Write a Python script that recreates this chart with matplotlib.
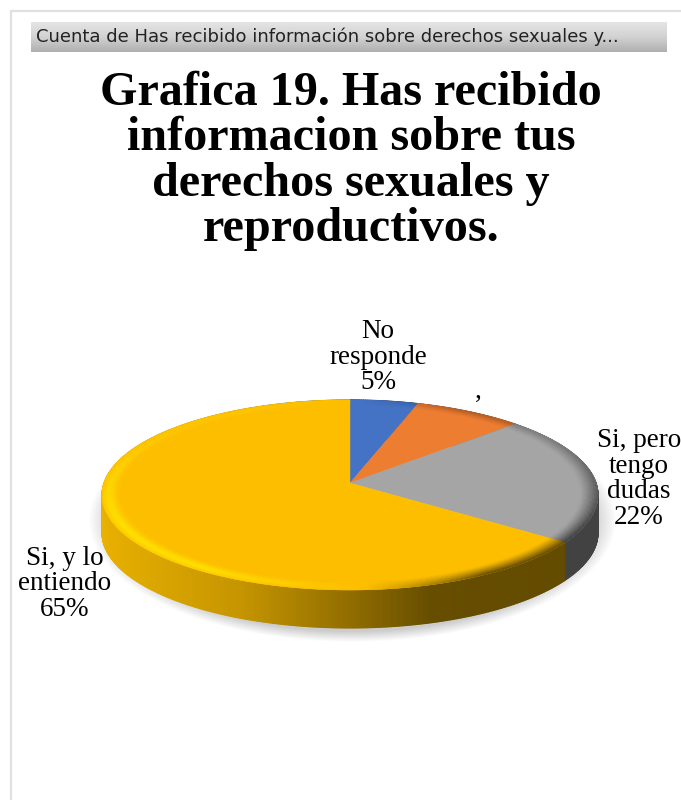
# -*- coding: utf-8 -*-
import numpy as np
import matplotlib.pyplot as plt
from matplotlib.collections import PolyCollection
from matplotlib.colors import to_rgb, LinearSegmentedColormap
from matplotlib.patches import Polygon

categorias = ["No responde", "", "Si, pero tengo dudas", "Si, y lo entiendo"]
valores = [5, 8, 22, 65]
colores = ["#4472c4", "#ed7d31", "#a5a5a5", "#fdbe00"]
etiquetas = ["No\nresponde\n5%", ",", "Si, pero\ntengo\ndudas\n22%", "Si, y lo\nentiendo\n65%"]
pos_etiquetas = [(378, 357), (478, 391), (639, 479), (65, 584)]
titulo = "Grafica 19. Has recibido\ninformacion sobre tus\nderechos sexuales y\nreproductivos."
cabecera = "Cuenta de Has recibido información sobre derechos sexuales y..."

# geometria del pie en pixeles
CX, CY = 350, 483
RX, RY = 246, 93.5
P = 0.126
ALTO = 38


def proyecta(ang, r=1.0):
    # ang en grados, sentido horario desde arriba, con perspectiva
    t = np.radians(ang)
    u = r * np.sin(t)
    v = -r * np.cos(t)
    s = 1 / (1 - P * v)
    return CX + RX * u * s, CY + RY * v * s


def mezcla(a, b, w):
    return tuple(np.array(a) * (1 - w) + np.array(b) * w)


fig = plt.figure(figsize=(6.81, 8), dpi=100)
ax = fig.add_axes([0, 0, 1, 1])
ax.set_xlim(0, 681)
ax.set_ylim(800, 0)
ax.axis("off")

# marco y barra de cabecera
ax.plot([11, 11, 681], [800, 11, 11], color="#e0e0e0", lw=1.6, zorder=1)
barra = np.linspace(0, 1, 30).reshape(-1, 1)
cmap_barra = LinearSegmentedColormap.from_list("barra", ["#e4e4e4", "#d2d2d2", "#b0b0b0"])
ax.imshow(barra, extent=[31, 667, 52, 22], cmap=cmap_barra, aspect="auto", zorder=2)
ax.set_xlim(0, 681)
ax.set_ylim(800, 0)
ax.text(36, 37, cabecera, family="DejaVu Sans", fontsize=13, color="#222222",
        va="center", ha="left", zorder=3)

ax.text(351, 161, titulo, family="Liberation Serif", weight="bold", fontsize=34.7,
        color="black", ha="center", va="center", linespacing=1.045, zorder=3)

# sombra difusa bajo el pie
yy, xx = np.mgrid[380:660, 70:640]
d = np.sqrt(((xx - 352) / 256.0) ** 2 + ((yy - 520) / 118.0) ** 2)
alfa = np.clip((1.03 - d) / 0.09, 0, 1) * 0.36
img = np.zeros(d.shape + (4,))
img[..., :3] = 0.45
img[..., 3] = alfa
ax.imshow(img, extent=[70, 640, 660, 380], aspect="auto", zorder=4, interpolation="bilinear")
ax.set_xlim(0, 681)
ax.set_ylim(800, 0)

# angulos acumulados de cada porcion
fin = np.cumsum(valores) / np.sum(valores) * 360
ini = np.concatenate([[0], fin[:-1]])

# pared lateral
caras, tonos = [], []
cmap_lado = LinearSegmentedColormap.from_list(
    "lado", [(0, "#e8b000"), (0.3, "#c69500"), (0.55, "#8f6c00"), (0.72, "#664d00"), (1, "#634b00")])
for a0, a1, col in zip(ini, fin, colores):
    angs = np.arange(a0, a1 + 0.5, 0.5)
    for b0, b1 in zip(angs[:-1], angs[1:]):
        x0, y0 = proyecta(b0)
        x1, y1 = proyecta(b1)
        caras.append([(x0, y0), (x1, y1), (x1, y1 + ALTO), (x0, y0 + ALTO)])
        if col == colores[3]:
            tonos.append(cmap_lado((x0 - 102) / 460.0))
        else:
            tonos.append(mezcla(to_rgb(col), (0, 0, 0), 0.6))
ax.add_collection(PolyCollection(caras, facecolors=tonos, edgecolors=tonos, lw=0.8, zorder=5))

# cara superior
for a0, a1, col in zip(ini, fin, colores):
    angs = np.linspace(a0, a1, 200)
    px, py = proyecta(angs)
    cx0, cy0 = proyecta(0.0, 0.0)
    vert = [(cx0, cy0)] + list(zip(px, py))
    ax.add_patch(Polygon(vert, closed=True, facecolor=col, edgecolor=col, lw=0.3, zorder=6))

# bisel del borde
caras, tonos = [], []
radios = np.linspace(0.93, 1.0, 11)
for a0, a1, col in zip(ini, fin, colores):
    base = to_rgb(col)
    claro = (1.0, 0.88, 0.0) if col == colores[3] else mezcla(base, (1, 1, 1), 0.3)
    oscuro = mezcla(base, (0, 0, 0), 0.62)
    angs = np.arange(a0, a1 + 0.5, 0.5)
    for b0, b1 in zip(angs[:-1], angs[1:]):
        t = np.radians((b0 + b1) / 2)
        u, v = np.sin(t), -np.cos(t)
        luz = -0.9 * u + 0.05
        for r0, r1 in zip(radios[:-1], radios[1:]):
            x00, y00 = proyecta(b0, r0)
            x10, y10 = proyecta(b1, r0)
            x11, y11 = proyecta(b1, r1)
            x01, y01 = proyecta(b0, r1)
            rm = ((r0 + r1) / 2 - radios[0]) / (1 - radios[0])
            if luz > 0:
                # brillo con maximo antes del borde, mas fuerte delante
                w = min(luz * 1.8, 1.0) * np.exp(-((rm - 0.6) / 0.4) ** 2)
                w *= 0.25 + 0.75 * np.clip(v + 0.6, 0, 1)
                tono = mezcla(base, claro, w)
            else:
                w = min(-luz * 2.5, 1.0) * rm ** 1.2
                w *= 0.4 + 0.6 * np.clip(v + 0.5, 0, 1)
                tono = mezcla(base, oscuro, w)
            caras.append([(x00, y00), (x10, y10), (x11, y11), (x01, y01)])
            tonos.append(tono)
ax.add_collection(PolyCollection(caras, facecolors=tonos, edgecolors=tonos, lw=0.3, zorder=7))

# etiquetas de datos
for txt, (x, y) in zip(etiquetas, pos_etiquetas):
    ax.text(x, y, txt, family="Liberation Serif", fontsize=19.5, color="black",
            ha="center", va="center", linespacing=1.02, zorder=8)

fig.savefig("out.png", dpi=100, facecolor="white")
